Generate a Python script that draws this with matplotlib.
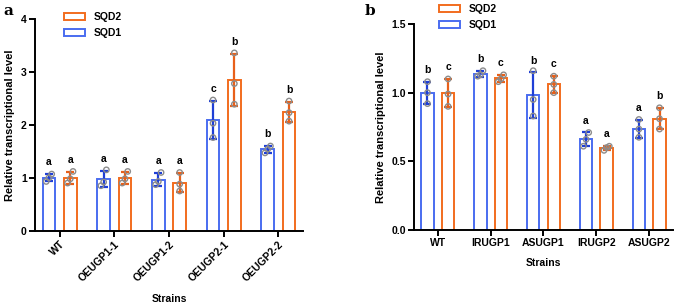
import numpy as np
import matplotlib
matplotlib.use("Agg")
import matplotlib.pyplot as plt
from matplotlib.patches import Patch

plt.rcParams['font.family'] = ['Liberation Sans', 'DejaVu Sans']
plt.rcParams['font.weight'] = 'bold'

# ---------- data ----------
strains_a = ["WT", "OEUGP1-1", "OEUGP1-2", "OEUGP2-1", "OEUGP2-2"]
sqd1_a_pts = [[0.93, 1.00, 1.07], [0.85, 0.92, 1.15], [0.87, 0.93, 1.10], [1.76, 2.03, 2.47], [1.47, 1.54, 1.60]]
sqd2_a_pts = [[0.90, 0.98, 1.12], [0.90, 0.98, 1.12], [0.75, 0.88, 1.10], [2.39, 2.78, 3.36], [2.07, 2.23, 2.45]]
sqd1_a_letters = ["a", "a", "a", "c", "b"]
sqd2_a_letters = ["a", "a", "a", "b", "b"]

strains_b = ["WT", "IRUGP1", "ASUGP1", "IRUGP2", "ASUGP2"]
sqd1_b_pts = [[0.92, 1.00, 1.08], [1.12, 1.13, 1.16], [0.83, 0.95, 1.16], [0.61, 0.66, 0.71], [0.675, 0.735, 0.805]]
sqd2_b_pts = [[0.90, 0.99, 1.10], [1.08, 1.10, 1.13], [1.00, 1.06, 1.12], [0.58, 0.60, 0.61], [0.735, 0.81, 0.89]]
sqd1_b_letters = ["b", "b", "b", "a", "a"]
sqd2_b_letters = ["c", "c", "c", "a", "b"]

BLUE = "#4a6cf0"
BLUE_D = "#1f3fd6"
ORANGE = "#f26c1e"
ORANGE_D = "#e8601a"
GRAY = "#8c8c8c"

FS = 7.5

W = 675 / 100
H = 304 / 100
fig = plt.figure(figsize=(W, H), dpi=100)

def px_axes(l, r, t, b):
    return fig.add_axes([l / 675, 1 - b / 304, (r - l) / 675, (b - t) / 304])

ax_a = px_axes(35, 303, 19, 230.7)
ax_b = px_axes(414, 673, 24, 230)

def draw(ax, strains, p1, p2, l1, l2, ylim, yticks, yticklabels, rot):
    x = np.arange(len(strains))
    off = 0.195
    bw = 0.235
    for pts, letters, sign, c, cd in [(p1, l1, -1, BLUE, BLUE_D), (p2, l2, 1, ORANGE, ORANGE_D)]:
        arr = np.array(pts)
        m = arr.mean(axis=1)
        sd = arr.std(axis=1, ddof=1)
        xs = x + sign * off
        ax.bar(xs, m, width=bw, facecolor="white", edgecolor=c, linewidth=1.4, zorder=2)
        ax.errorbar(xs, m, yerr=sd, fmt="none", ecolor=cd, elinewidth=1.6, capsize=3, capthick=1.6, zorder=3)
        for i in range(len(strains)):
            jit = np.array([-0.05, 0.0, 0.05]) if (arr[i].max() - arr[i].min()) < 0.08 * ylim[1] else np.zeros(3)
            ax.scatter(xs[i] + jit, arr[i], s=15, facecolor="none", edgecolor=GRAY, linewidth=1.0, zorder=4)
            ax.annotate(letters[i], (xs[i], m[i] + sd[i]), xytext=(0, 5), textcoords="offset points",
                        ha="center", va="bottom", fontsize=FS, fontweight="bold")
    ax.set_xlim(-0.45, len(strains) - 0.55)
    ax.set_ylim(*ylim)
    ax.set_yticks(yticks)
    ax.set_yticklabels(yticklabels, fontsize=FS, fontweight="bold")
    ax.set_xticks(x)
    if rot:
        ax.set_xticklabels(strains, rotation=45, ha="right", rotation_mode="anchor", fontsize=FS, fontweight="bold")
    else:
        ax.set_xticklabels(strains, fontsize=FS, fontweight="bold")
    for s in ["top", "right"]:
        ax.spines[s].set_visible(False)
    for s in ["left", "bottom"]:
        ax.spines[s].set_linewidth(1.4)
    ax.tick_params(axis="both", width=1.4, length=4, direction="out", pad=2)
    ax.set_ylabel("Relative transcriptional level", fontsize=8, fontweight="bold", labelpad=4)

draw(ax_a, strains_a, sqd1_a_pts, sqd2_a_pts, sqd1_a_letters, sqd2_a_letters,
     (0, 4), [0, 1, 2, 3, 4], ["0", "1", "2", "3", "4"], True)
draw(ax_b, strains_b, sqd1_b_pts, sqd2_b_pts, sqd1_b_letters, sqd2_b_letters,
     (0, 1.5), [0, 0.5, 1.0, 1.5], ["0.0", "0.5", "1.0", "1.5"], False)

ax_a.set_xlabel("Strains", fontsize=FS, fontweight="bold", labelpad=8)
ax_b.set_xlabel("Strains", fontsize=FS, fontweight="bold", labelpad=7)

handles = [Patch(facecolor="white", edgecolor=ORANGE, linewidth=1.4, label="SQD2"),
           Patch(facecolor="white", edgecolor=BLUE, linewidth=1.4, label="SQD1")]
for anchor in [(55 / 675, 1 - 3 / 304), (430 / 675, 1 + 5 / 304)]:
    fig.legend(handles=handles, loc="upper left", bbox_to_anchor=anchor, frameon=False,
               handlelength=2.0, handleheight=0.6, labelspacing=0.55, handletextpad=0.8,
               prop={"weight": "bold", "size": FS})

fig.text(3 / 675, 1 - 11 / 304, "a", family="DejaVu Serif", fontsize=11, va="center", ha="left")
fig.text(365 / 675, 1 - 11 / 304, "b", family="DejaVu Serif", fontsize=11, va="center", ha="left")

fig.savefig("out.png", dpi=100)
